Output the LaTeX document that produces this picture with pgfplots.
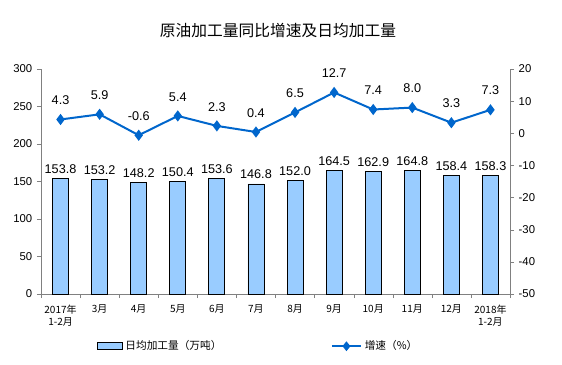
\documentclass[border=0pt]{standalone}
\usepackage{pgfplots}
\pgfplotsset{compat=1.18}
\usepackage{fontspec}
\setmainfont{Liberation Sans}
\newfontfamily\cjk{Noto Sans CJK SC}
\definecolor{barfill}{HTML}{99CCFF}
\definecolor{linec}{HTML}{0066CC}
\definecolor{axgray}{HTML}{808080}
\begin{document}
\begin{tikzpicture}
\path[use as bounding box] (0pt,0pt) rectangle (421.5pt,273.75pt);
\node[font=\cjk\fontsize{11.8}{13}\selectfont] at (208.5pt,251pt) {原油加工量同比增速及日均加工量};
\begin{axis}[
  at={(30.75pt,53.25pt)}, anchor=south west, scale only axis,
  width=351.75pt, height=168.75pt,
  xmin=-0.5, xmax=11.5, ymin=0, ymax=300,
  ytick={0,50,...,300},
  xtick={0,...,11},
  xticklabels={{2017年\\1-2月},3月,4月,5月,6月,7月,8月,9月,10月,11月,12月,{2018年\\1-2月}},
  xticklabel style={font=\cjk\fontsize{7.5}{9.5}\selectfont, align=center, yshift=-1.5pt},
  minor xtick={-0.5,0.5,...,11.5},
  major x tick style={draw=none},
  minor tick length=3pt,
  major tick length=3pt,
  tick align=outside,
  axis y line*=left, axis x line*=bottom,
  axis line style={axgray, -},
  tick style={axgray},
  yticklabel style={font=\fontsize{8.5}{10}\selectfont},
  /pgf/number format/assume math mode=true,
  legend style={draw=none, at={(0.111,-0.232)}, anchor=west, font=\cjk\fontsize{8}{10}\selectfont, legend columns=2, /tikz/every even column/.append style={column sep=80pt}},
  legend cell align=left,
]
\addplot[ybar, bar width=12pt, fill=barfill, draw=black, line width=0.6pt,
  nodes near coords, nodes near coords style={font=\fontsize{9.5}{11}\selectfont, black, /pgf/number format/.cd, fixed, precision=1, zerofill, assume math mode=true},
  area legend, legend image code/.code={\draw[fill=barfill,draw=black] (0pt,-2.6pt) rectangle (18.5pt,2.6pt);}]
coordinates {(0,153.8) (1,153.2) (2,148.2) (3,150.4) (4,153.6) (5,146.8) (6,152.0) (7,164.5) (8,162.9) (9,164.8) (10,158.4) (11,158.3)};
\addlegendentry{日均加工量（万吨）}
\addlegendimage{line legend, linec, line width=1.5pt, legend image code/.code={\draw[linec, line width=1.5pt] (0pt,0pt) -- (22pt,0pt); \fill[linec] (11pt,0pt) +(0,2.5pt) -- +(2pt,0) -- +(0,-2.5pt) -- +(-2pt,0) -- cycle;}}
\addlegendentry{增速（\%）}
\end{axis}
\begin{axis}[
  at={(30.75pt,53.25pt)}, anchor=south west, scale only axis,
  width=351.75pt, height=168.75pt,
  xmin=-0.5, xmax=11.5, ymin=-50, ymax=20,
  ytick={-50,-40,...,20},
  axis y line*=right, axis x line=none,
  axis line style={axgray, -},
  tick style={axgray}, tick align=outside, major tick length=3pt,
  yticklabel style={font=\fontsize{8.5}{10}\selectfont},
  /pgf/number format/assume math mode=true,
]
\addplot[linec, line width=1.5pt, mark=diamond*, mark size=3pt,
  nodes near coords, nodes near coords align={anchor=south},
  nodes near coords style={font=\fontsize{9.5}{11}\selectfont, black, yshift=7pt, /pgf/number format/.cd, fixed, precision=1, zerofill, assume math mode=true}]
coordinates {(0,4.3) (1,5.9) (2,-0.6) (3,5.4) (4,2.3) (5,0.4) (6,6.5) (7,12.7) (8,7.4) (9,8.0) (10,3.3) (11,7.3)};
\end{axis}
\end{tikzpicture}
\end{document}
